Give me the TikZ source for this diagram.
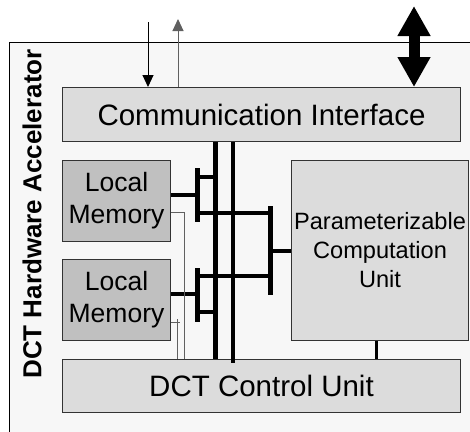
\documentclass[tikz,border=0pt]{standalone}
\usepackage{fontspec}
\setmainfont{Liberation Sans}
\usetikzlibrary{arrows.meta}
\definecolor{bgfill}{HTML}{F7F7F7}
\definecolor{lightbox}{HTML}{DCDCDC}
\definecolor{membox}{HTML}{C0C0C0}
\definecolor{boxline}{HTML}{333333}
\definecolor{thingray}{HTML}{606060}
\begin{document}
\begin{tikzpicture}[x=1pt,y=-1pt,
  box/.style={draw=boxline, line width=1pt, inner sep=0pt, anchor=north west, align=center},
  bigtext/.style={font=\fontsize{29.5}{34}\selectfont},
  memtext/.style={font=\fontsize{26.5}{32}\selectfont},
  pcutext/.style={font=\fontsize{23.6}{29}\selectfont},
  bus/.style={line width=5pt},
  bustwo/.style={line width=3.3pt},
  bar/.style={line width=5pt},
  link/.style={line width=4pt},
  thin/.style={draw=thingray, line width=0.9pt},
  sig/.style={line width=1pt, -{Triangle[width=11pt,length=12pt]}},
  bigarrow/.style={line width=11pt, {Triangle[width=31pt,length=30pt]}-{Triangle[width=31pt,length=30pt]}}
]
\useasboundingbox (0,0) rectangle (470,431);
\clip (0,0) rectangle (470,431);

% outer accelerator box
\node[box, draw=black, fill=bgfill, minimum width=480pt, minimum height=420pt] (acc) at (9,42) {};
\node[rotate=90, font=\bfseries\fontsize{26}{30}\selectfont] (title) at (32,214) {DCT Hardware Accelerator};

% blocks
\node[box, fill=lightbox, minimum width=398pt, minimum height=54pt, bigtext] (comm) at (62,87) {Communication Interface};
\node[box, fill=membox, minimum width=108pt, minimum height=81pt, memtext] (mem1) at (62,160) {Local\\Memory};
\node[box, fill=membox, minimum width=108pt, minimum height=81pt, memtext] (mem2) at (62,259) {Local\\Memory};
\node[box, fill=lightbox, minimum width=177pt, minimum height=180pt, pcutext] (pcu) at (291,160) {Parameterizable\\Computation\\Unit};
\node[box, fill=lightbox, minimum width=398pt, minimum height=53pt, bigtext] (ctrl) at (62,359) {DCT Control Unit};

% external signals
\coordinate (inTop) at (148,22);
\coordinate (outTop) at (178,19);
\coordinate (ioTop) at (414,6);
\draw[sig] (inTop) -- (inTop |- comm.north);
\draw[sig, draw=thingray, fill=thingray] (outTop |- comm.north) -- (outTop);
\draw[bigarrow] (ioTop) -- (ioTop |- comm.north);

% buses
\coordinate (busA) at (215,0);
\coordinate (busB) at (233,0);
\coordinate (barL) at (197,0);
\coordinate (barR) at (270,0);
\draw[bus] (busA |- comm.south) -- (busA |- ctrl.north);
\draw[bustwo] (busB |- comm.south) -- ([yshift=-4pt]busB |- ctrl.north);

% memory 1 wiring
\draw[link] (mem1.east |- 0,195) -- (barL |- 0,195);
\draw[bar] (barL |- 0,168) -- (barL |- 0,222);
\draw[link] (barL |- 0,177) -- (busA |- 0,177);
\draw[link] (barL |- 0,213) -- (barR |- 0,213);

% memory 2 wiring
\draw[link] (mem2.east |- 0,294) -- (barL |- 0,294);
\draw[bar] (barL |- 0,268) -- (barL |- 0,322);
\draw[link] (barL |- 0,276) -- (barR |- 0,276);
\draw[link] (barL |- 0,312) -- (busA |- 0,312);

% PCU input bar
\draw[bar] (barR |- 0,206) -- (barR |- 0,295);
\draw[link] (barR |- pcu.west) -- (pcu.west);

% thin control lines
\draw[thin] (mem1.east |- 0,212) -- (184,212) -- (184,0 |- ctrl.north);
\draw[thin] (mem2.east |- 0,322) -- (179.5,322);
\draw[thin] (177,319) -- (177,0 |- ctrl.north);

% PCU to control unit
\draw[line width=3pt] (376,0 |- pcu.south) -- (376,0 |- ctrl.north);
\end{tikzpicture}
\end{document}
